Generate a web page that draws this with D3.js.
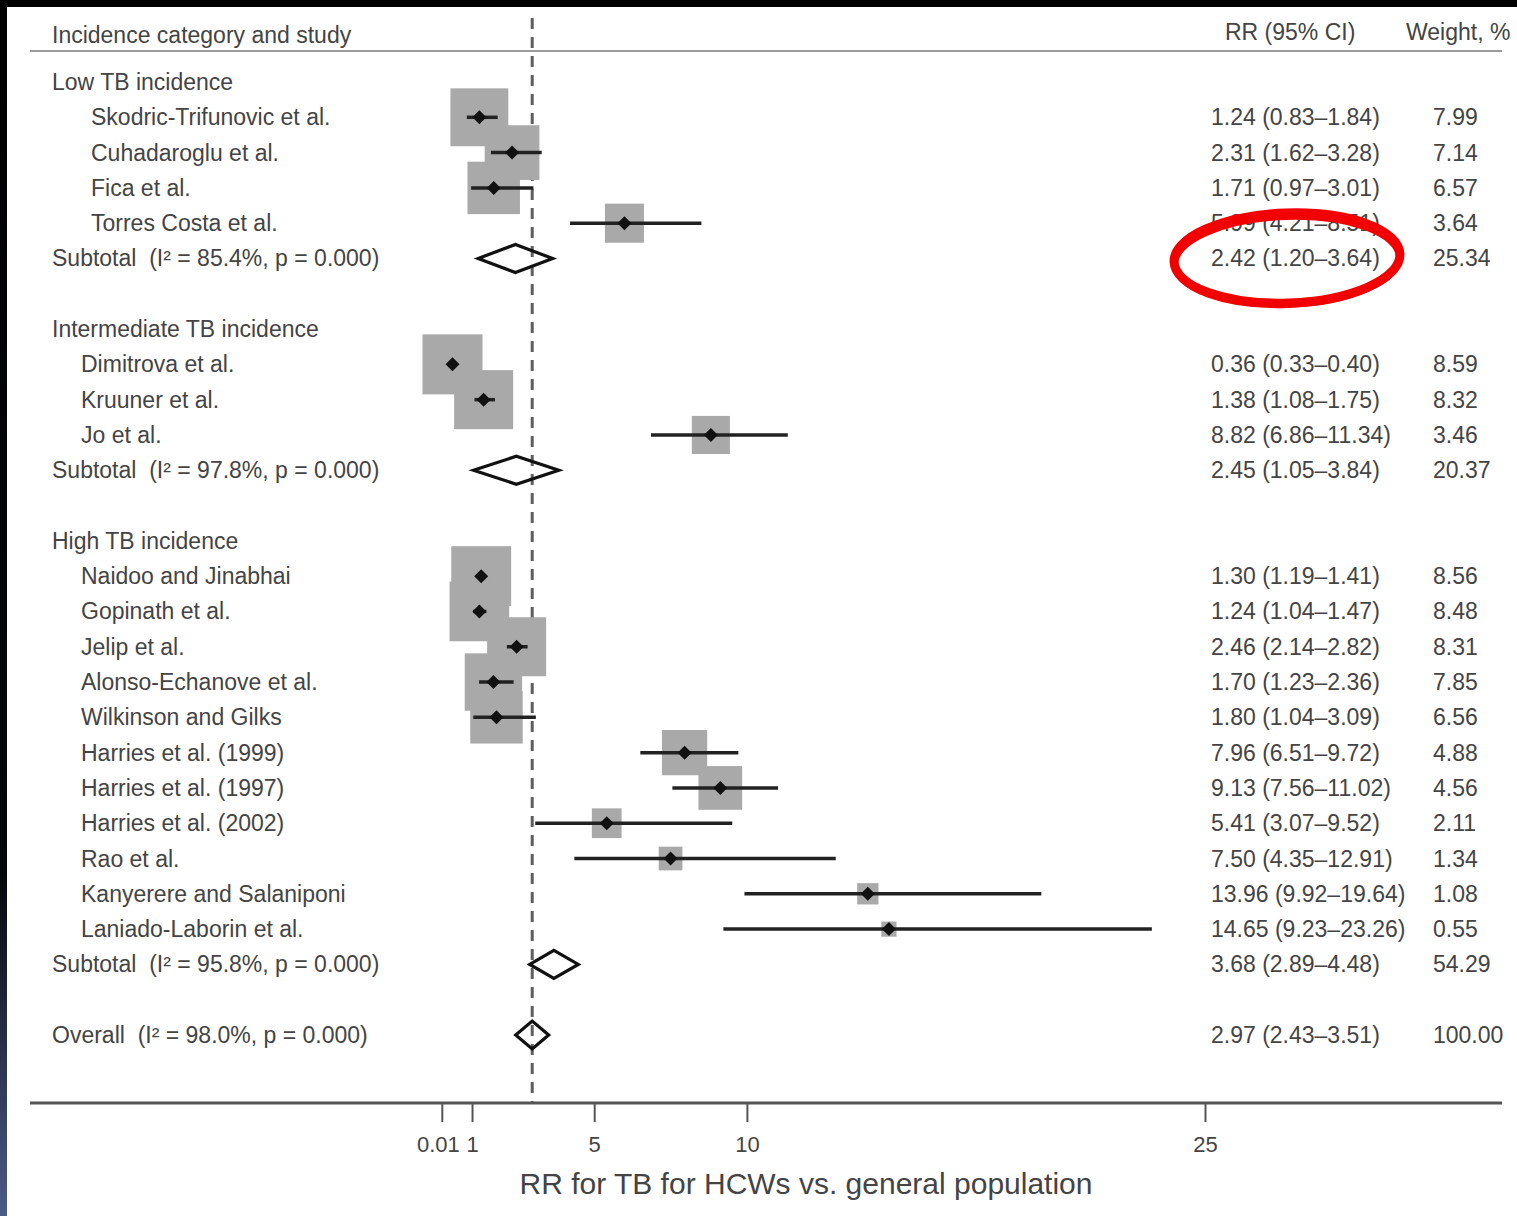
<!DOCTYPE html>
<html>
<head>
<meta charset="utf-8">
<script src="https://cdn.jsdelivr.net/npm/d3@7"></script>
<style>
  body { margin: 0; background: #fff; }
  svg { display: block; font-family: "Liberation Sans", Arial, sans-serif; }
  text { white-space: pre; }
</style>
</head>
<body>
<div id="chart"></div>
<script>
// --- data ---
const groupLabels = ['Low TB incidence', 'Intermediate TB incidence', 'High TB incidence'];
const groupStats = ['(I\u00b2 = 85.4%, p = 0.000)', '(I\u00b2 = 97.8%, p = 0.000)', '(I\u00b2 = 95.8%, p = 0.000)'];

const studyNames = [
  'Skodric-Trifunovic et al.', 'Cuhadaroglu et al.', 'Fica et al.', 'Torres Costa et al.',
  'Dimitrova et al.', 'Kruuner et al.', 'Jo et al.',
  'Naidoo and Jinabhai', 'Gopinath et al.', 'Jelip et al.', 'Alonso-Echanove et al.',
  'Wilkinson and Gilks', 'Harries et al. (1999)', 'Harries et al. (1997)', 'Harries et al. (2002)',
  'Rao et al.', 'Kanyerere and Salaniponi', 'Laniado-Laborin et al.'
];
const studyGroup = [0, 0, 0, 0, 1, 1, 1, 2, 2, 2, 2, 2, 2, 2, 2, 2, 2, 2];
const rr      = [1.24, 2.31, 1.71, 5.99, 0.36, 1.38, 8.82, 1.30, 1.24, 2.46, 1.70, 1.80, 7.96, 9.13, 5.41, 7.50, 13.96, 14.65];
const ciLow   = [0.83, 1.62, 0.97, 4.21, 0.33, 1.08, 6.86, 1.19, 1.04, 2.14, 1.23, 1.04, 6.51, 7.56, 3.07, 4.35, 9.92, 9.23];
const ciHigh  = [1.84, 3.28, 3.01, 8.51, 0.40, 1.75, 11.34, 1.41, 1.47, 2.82, 2.36, 3.09, 9.72, 11.02, 9.52, 12.91, 19.64, 23.26];
const weights = [7.99, 7.14, 6.57, 3.64, 8.59, 8.32, 3.46, 8.56, 8.48, 8.31, 7.85, 6.56, 4.88, 4.56, 2.11, 1.34, 1.08, 0.55];

const subRR     = [2.42, 2.45, 3.68];
const subLow    = [1.20, 1.05, 2.89];
const subHigh   = [3.64, 3.84, 4.48];
const subWeight = [25.34, 20.37, 54.29];

const overallLabel = 'Overall  (I\u00b2 = 98.0%, p = 0.000)';
const overall = [2.97, 2.43, 3.51, 100.00];   // rr, low, high, weight

const xTicks = [0.01, 1, 5, 10, 25];
const xTickLabels = ['0.01', '1', '5', '10', '25'];
const axisTitle = 'RR for TB for HCWs vs. general population';

// --- layout ---
const W = 1517, H = 1216;
const svg = d3.select('#chart').append('svg').attr('width', W).attr('height', H);
const TXT = '#444';

// rows: header, studies, subtotal, blank line, per group; then overall
const rows = [];
let r = 0;
groupLabels.forEach((g, gi) => {
  rows.push({ type: 'group', label: g, row: r++ });
  studyNames.forEach((n, i) => {
    if (studyGroup[i] === gi) rows.push({ type: 'study', label: n, g: gi, rr: rr[i], lo: ciLow[i], hi: ciHigh[i], w: weights[i], row: r++ });
  });
  rows.push({ type: 'sub', label: 'Subtotal  ' + groupStats[gi], rr: subRR[gi], lo: subLow[gi], hi: subHigh[gi], w: subWeight[gi], row: r++ });
  r++;
});
rows.push({ type: 'overall', label: overallLabel, rr: overall[0], lo: overall[1], hi: overall[2], w: overall[3], row: r });

const x = d3.scaleLinear().domain([0, 25]).range([441.5, 1205]);
const y = d3.scaleLinear().domain([0, 27]).range([82, 1035]);
const box = d3.scaleSqrt().domain([0, 8.59]).range([0, 60]);
const f2 = d3.format('.2f');

// frame edges of the photo
const grad = svg.append('defs').append('linearGradient').attr('id', 'edge').attr('x1', 0).attr('x2', 0).attr('y1', 0).attr('y2', 1);
grad.append('stop').attr('offset', '0%').attr('stop-color', '#000');
grad.append('stop').attr('offset', '72%').attr('stop-color', '#05070c');
grad.append('stop').attr('offset', '100%').attr('stop-color', '#4b5a88');
svg.append('rect').attr('x', 0).attr('y', 0).attr('width', W).attr('height', 7).attr('fill', '#000');
svg.append('rect').attr('x', 0).attr('y', 0).attr('width', 7).attr('height', H).attr('fill', 'url(#edge)');

// column headers
const hdr = svg.append('g').attr('fill', TXT).attr('font-size', 23);
hdr.append('text').attr('x', 52).attr('y', 43).text('Incidence category and study');
hdr.append('text').attr('x', 1225).attr('y', 40).text('RR (95% CI)');
hdr.append('text').attr('x', 1406).attr('y', 40).text('Weight, %');
svg.append('line').attr('x1', 30).attr('x2', 1502).attr('y1', 51).attr('y2', 51)
  .attr('stroke', '#9a9a9a').attr('stroke-width', 2);

// dashed line at the overall estimate
svg.append('line').attr('x1', x(overall[0])).attr('x2', x(overall[0])).attr('y1', 18).attr('y2', 1103)
  .attr('stroke', '#5e5e5e').attr('stroke-width', 3).attr('stroke-dasharray', '11,8');

// study boxes, CIs and point markers
const studies = rows.filter(d => d.type === 'study');
const marks = svg.append('g');
marks.selectAll('rect.box').data(studies).join('rect').attr('class', 'box')
  .attr('x', d => x(d.rr) - box(d.w) / 2).attr('y', d => y(d.row) - box(d.w) / 2)
  .attr('width', d => box(d.w)).attr('height', d => box(d.w)).attr('fill', '#a9a9a9');
marks.selectAll('line.ci').data(studies).join('line').attr('class', 'ci')
  .attr('x1', d => x(d.lo)).attr('x2', d => x(d.hi)).attr('y1', d => y(d.row)).attr('y2', d => y(d.row))
  .attr('stroke', '#222').attr('stroke-width', 3.5);
marks.selectAll('path.pt').data(studies).join('path').attr('class', 'pt')
  .attr('d', d => { const cx = x(d.rr), cy = y(d.row), s = 7; return `M${cx - s},${cy}L${cx},${cy - s}L${cx + s},${cy}L${cx},${cy + s}Z`; })
  .attr('fill', '#111');

// pooled diamonds
const pooled = rows.filter(d => d.type === 'sub' || d.type === 'overall');
marks.selectAll('path.dia').data(pooled).join('path').attr('class', 'dia')
  .attr('d', d => { const cy = y(d.row), h = 14; return `M${x(d.lo)},${cy}L${x(d.rr)},${cy - h}L${x(d.hi)},${cy}L${x(d.rr)},${cy + h}Z`; })
  .attr('fill', 'none').attr('stroke', '#111').attr('stroke-width', 3.2).attr('stroke-linejoin', 'miter');

// left labels
const labels = svg.append('g').attr('fill', TXT).attr('font-size', 23);
labels.selectAll('text').data(rows).join('text')
  .attr('x', d => d.type === 'study' ? (d.g === 0 ? 91 : 81) : 52)
  .attr('y', d => y(d.row) + 8)
  .text(d => d.label);

// right columns
const valued = rows.filter(d => d.type !== 'group');
labels.selectAll('text.rr').data(valued).join('text').attr('class', 'rr')
  .attr('x', 1211).attr('y', d => y(d.row) + 8)
  .text(d => `${f2(d.rr)} (${f2(d.lo)}\u2013${f2(d.hi)})`);
labels.selectAll('text.wt').data(valued).join('text').attr('class', 'wt')
  .attr('x', 1433).attr('y', d => y(d.row) + 8)
  .text(d => f2(d.w));

// x axis
svg.append('line').attr('x1', 30).attr('x2', 1502).attr('y1', 1103).attr('y2', 1103)
  .attr('stroke', '#555').attr('stroke-width', 3);
const ax = svg.append('g').attr('transform', 'translate(0,1103)')
  .call(d3.axisBottom(x).tickValues(xTicks).tickFormat((d, i) => xTickLabels[i]).tickSize(19).tickPadding(14));
ax.select('.domain').remove();
ax.selectAll('.tick line').attr('stroke', '#555').attr('stroke-width', 2);
ax.selectAll('.tick text').attr('fill', TXT).attr('font-size', 22)
  .attr('font-family', '"Liberation Sans", Arial, sans-serif')
  .attr('dx', (d, i) => i === 0 ? -4 : 0);
svg.append('text').attr('x', 806).attr('y', 1194).attr('text-anchor', 'middle')
  .attr('fill', TXT).attr('font-size', 30).text(axisTitle);

// red hand-drawn ring over the first subtotal
svg.append('ellipse').attr('cx', 1287).attr('cy', 258).attr('rx', 113).attr('ry', 45)
  .attr('transform', 'rotate(-2 1287 258)')
  .attr('fill', 'none').attr('stroke', '#f20000').attr('stroke-width', 9);
svg.append('ellipse').attr('cx', 1287).attr('cy', 261).attr('rx', 112).attr('ry', 44)
  .attr('transform', 'rotate(-2 1287 261)')
  .attr('fill', 'none').attr('stroke', '#f20000').attr('stroke-width', 6);
</script>
</body>
</html>
